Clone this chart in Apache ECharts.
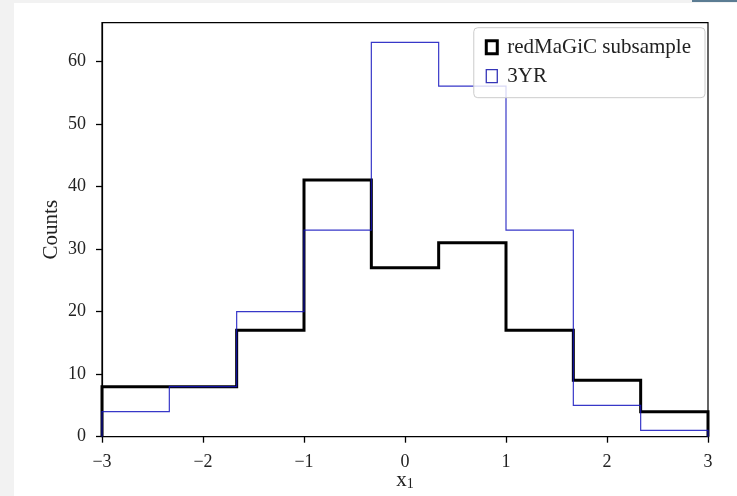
<!DOCTYPE html>
<html>
<head>
<meta charset="utf-8">
<script src="https://cdn.jsdelivr.net/npm/echarts@6/dist/echarts.min.js"></script>
<style>
  html, body { margin: 0; padding: 0; width: 737px; height: 496px; background: #f2f2f2; overflow: hidden; }
  #topbar { position: absolute; left: 692px; top: 0; width: 45px; height: 2px; background: #5b7c93; }
  #chart { position: absolute; left: 14px; top: 3px; width: 723px; height: 493px; background: #ffffff; }
</style>
</head>
<body>
<div id="topbar"></div>
<div id="chart"></div>
<script>
// Histogram bin edges (9 equal bins on [-3, 3])
const binEdges = [-3, -7 / 3, -5 / 3, -1, -1 / 3, 1 / 3, 1, 5 / 3, 7 / 3, 3];
// Counts per bin
const redmagicCounts = [8, 8, 17, 41, 27, 31, 17, 9, 4];
const yr3Counts = [4, 8, 20, 33, 63, 56, 33, 5, 1];
// Tick positions
const xTicks = [-3, -2, -1, 0, 1, 2, 3];
const yTicks = [0, 10, 20, 30, 40, 50, 60];
const seriesNames = ['redMaGiC subsample', '3YR'];

// Outline of a step histogram: up from zero at the first edge, across each bin, down to zero at the last edge
function stepOutline(edges, counts) {
  const pts = [[edges[0], 0]];
  counts.forEach((c, i) => pts.push([edges[i], c]));
  pts.push([edges[edges.length - 1], counts[counts.length - 1]]);
  pts.push([edges[edges.length - 1], 0]);
  return pts;
}

const FONT = "'Liberation Serif', 'Times New Roman', serif";
const chart = echarts.init(document.getElementById('chart'), null, { renderer: 'canvas' });

chart.setOption({
  animation: false,
  backgroundColor: '#ffffff',
  grid: {
    left: 88, right: 29, top: 19.7, bottom: 59.3,
    containLabel: false, outerBoundsMode: 'none',
    show: true, borderColor: '#000', borderWidth: 1.2, backgroundColor: 'transparent'
  },
  legend: {
    right: 32, top: 24.7,
    orient: 'vertical',
    itemWidth: 11, itemHeight: 13, itemGap: 8,
    padding: [9, 14, 11, 11],
    backgroundColor: 'rgba(255,255,255,0.8)',
    borderColor: '#cccccc', borderWidth: 1, borderRadius: 4,
    textStyle: { fontFamily: FONT, fontSize: 21, color: '#222', padding: [0, 0, 0, 5] },
    data: [
      { name: seriesNames[0], icon: 'rect', itemStyle: { color: '#fff', borderColor: '#000', borderWidth: 3 } },
      { name: seriesNames[1], icon: 'rect', itemStyle: { color: '#fff', borderColor: '#3535b8', borderWidth: 1.3 } }
    ]
  },
  xAxis: {
    type: 'value', min: -3, max: 3, interval: 1,
    name: 'x{sub|1}', nameLocation: 'middle', nameGap: 32, nameMoveOverlap: false,
    nameTextStyle: {
      fontFamily: FONT, fontSize: 21, color: '#222',
      rich: { sub: { fontFamily: FONT, fontSize: 14, color: '#222', verticalAlign: 'bottom', padding: [9, 0, 0, 0] } }
    },
    axisLine: { show: true, onZero: false, lineStyle: { color: '#000', width: 1.2 } },
    axisTick: { show: true, inside: false, length: 6, lineStyle: { color: '#000', width: 1.3 }, customValues: xTicks },
    axisLabel: {
      fontFamily: FONT, fontSize: 18, color: '#222', margin: 17,
      customValues: xTicks,
      formatter: v => (v < 0 ? '\u2212' + Math.abs(v) : String(v))
    },
    splitLine: { show: false }
  },
  yAxis: {
    type: 'value', min: 0, max: 66.15, interval: 10,
    name: 'Counts', nameLocation: 'middle', nameGap: 40, nameRotate: 90, nameMoveOverlap: false,
    nameTextStyle: { fontFamily: FONT, fontSize: 21, color: '#222' },
    axisLine: { show: true, onZero: false, lineStyle: { color: '#000', width: 1.2 } },
    axisTick: { show: true, inside: false, length: 6, lineStyle: { color: '#000', width: 1.3 }, customValues: yTicks },
    axisLabel: { fontFamily: FONT, fontSize: 18, color: '#222', margin: 16, customValues: yTicks },
    splitLine: { show: false }
  },
  series: [
    {
      name: seriesNames[0], type: 'line', step: 'end',
      data: stepOutline(binEdges, redmagicCounts),
      showSymbol: false, symbol: 'none',
      lineStyle: { color: '#000', width: 3, join: 'miter', cap: 'butt' },
      itemStyle: { color: '#000' }, z: 2
    },
    {
      name: seriesNames[1], type: 'line', step: 'end',
      data: stepOutline(binEdges, yr3Counts),
      showSymbol: false, symbol: 'none',
      lineStyle: { color: 'rgba(20,20,190,0.85)', width: 1.2, join: 'miter', cap: 'butt' },
      itemStyle: { color: '#3535b8' }, z: 3
    }
  ]
});
</script>
</body>
</html>
